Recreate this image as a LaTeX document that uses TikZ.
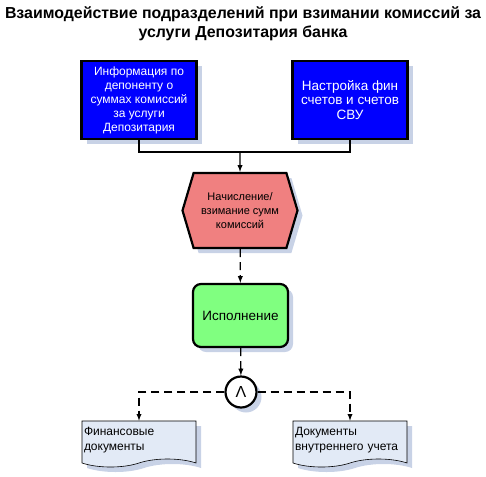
\documentclass[tikz,border=0pt]{standalone}
\usepackage{fontspec}
\setmainfont{Liberation Sans}
\usetikzlibrary{shapes,shapes.symbols,shadows,arrows}
\definecolor{evblue}{RGB}{0,0,255}
\definecolor{evred}{RGB}{240,128,128}
\definecolor{evgreen}{RGB}{128,255,128}
\definecolor{evdoc}{RGB}{226,234,246}
\definecolor{evshadow}{RGB}{200,210,230}

\begin{document}
\begin{tikzpicture}[x=1pt,y=-1pt,
  every node/.style={font=\fontsize{11}{14}\selectfont,align=center,inner sep=2},
  shadowed/.style={drop shadow={shadow xshift=5pt,shadow yshift=-5pt,fill=evshadow,opacity=1}},
  infobox/.style={draw,fill=evblue,text=white,line width=2.2,minimum width=115,minimum height=78,shadowed},
  func/.style={draw,signal,signal to=east and west,signal pointer angle=147,fill=evred,line width=2.2,minimum width=115,minimum height=75,shadowed},
  event/.style={draw,rounded corners=8,fill=evgreen,line width=2.2,minimum width=95,minimum height=63,
    font=\fontsize{13.5}{16}\selectfont,shadowed},
  gate/.style={draw,circle,fill=white,line width=2.2,minimum size=31,inner sep=0,font=\fontsize{16}{16}\selectfont,shadowed},
  docu/.style={draw,tape,tape bend top=none,tape bend height=8,fill=evdoc,line width=0.6,text width=110,inner xsep=2,
    inner ysep=3,minimum height=46,align=left,font=\fontsize{12}{15}\selectfont,shadowed},
  conn/.style={line width=1.3}]
\useasboundingbox (0,0) rectangle (486,476);

\node[draw=none,font=\bfseries\fontsize{15.9}{19}\selectfont] (title) at (243,24)
  {Взаимодействие подразделений при взимании комиссий за\\услуги Депозитария банка};

\node[infobox,font=\fontsize{12}{14}\selectfont] (info) at (139,100) {Информация по\\депоненту о\\суммах комиссий\\за услуги\\Депозитария};
\node[infobox,font=\fontsize{13.5}{14.5}\selectfont] (setup) at (350,100) {Настройка фин\\счетов и счетов\\СВУ};
\node[func] (calc) at (240,210.5) {Начисление/\\взимание сумм\\комиссий};
\node[event] (exec) at (240.5,315.5) {Исполнение};
\node[gate] (and) at (241,392) {Λ};
\node[docu] (fin) at (139,440) {Финансовые\\документы};
\node[docu] (intdoc) at (350,440) {Документы\\внутреннего учета};

\coordinate (join) at (240,152);

\draw[conn] (info.south) |- (join);
\draw[conn] (setup.south) |- (join);
\draw[conn,-latex] (join) -- (calc);
\draw[conn,dash pattern=on 8pt off 5pt,-latex] (calc) -- (exec);
\draw[conn,dash pattern=on 8pt off 5pt,-latex] (exec) -- (and);
\draw[conn,dash pattern=on 8pt off 5pt,-latex] (and) -| (fin);
\draw[conn,dash pattern=on 8pt off 5pt,-latex] (and) -| (intdoc);
\end{tikzpicture}
\end{document}
